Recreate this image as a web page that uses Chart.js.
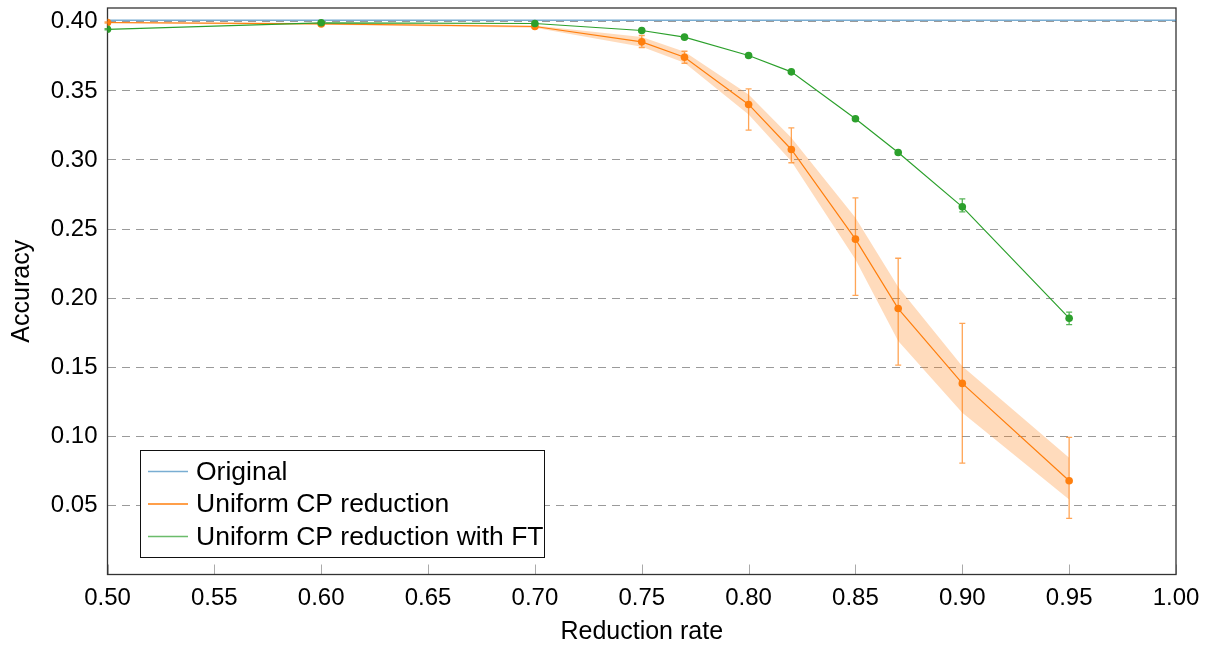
<!DOCTYPE html>
<html>
<head>
<meta charset="utf-8">
<script src="https://cdn.jsdelivr.net/npm/chart.js@4/dist/chart.umd.min.js"></script>
<style>
    html, body { margin: 0; padding: 0; background: #fff; }
    #wrap { width: 1216px; height: 646px; }
</style>
</head>
<body>
<div id="wrap"><canvas id="chart" width="1216" height="646"></canvas></div>
<script>
// reduction rates (x) shared by both curves
var rates = [0.50, 0.60, 0.70, 0.75, 0.77, 0.80, 0.82, 0.85, 0.87, 0.90, 0.95];

// original model accuracy (flat line)
var originalX = [0.50, 1.00];
var originalAcc = [0.4012, 0.4012];

// uniform CP reduction: mean, error bar ends, shaded band
var uniformAcc = [0.3995, 0.3985, 0.3966, 0.3855, 0.3744, 0.3402, 0.3076, 0.2427, 0.1925, 0.1383, 0.0679];
var uniformErrHigh = [0.4000, 0.3990, 0.3972, 0.3901, 0.3787, 0.3515, 0.3233, 0.2726, 0.2289, 0.1817, 0.0992];
var uniformErrLow = [0.3990, 0.3980, 0.3960, 0.3814, 0.3700, 0.3216, 0.2980, 0.2020, 0.1515, 0.0806, 0.0406];
var uniformBandHigh = [0.3999, 0.3991, 0.3973, 0.3890, 0.3783, 0.3474, 0.3161, 0.2582, 0.2080, 0.1508, 0.0845];
var uniformBandLow = [0.3988, 0.3979, 0.3957, 0.3820, 0.3703, 0.3329, 0.2991, 0.2280, 0.1690, 0.1171, 0.0543];

// uniform CP reduction with fine-tuning
var ftAcc = [0.3946, 0.3993, 0.3988, 0.3937, 0.3889, 0.3756, 0.3638, 0.3298, 0.3054, 0.2661, 0.1855];
var ftErrHigh = [0.3950, 0.3996, 0.3991, 0.3943, 0.3895, 0.3768, 0.3647, 0.3305, 0.3062, 0.2719, 0.1899];
var ftErrLow = [0.3942, 0.3990, 0.3985, 0.3931, 0.3883, 0.3744, 0.3629, 0.3291, 0.3046, 0.2625, 0.1808];

var xTicks = [0.50, 0.55, 0.60, 0.65, 0.70, 0.75, 0.80, 0.85, 0.90, 0.95, 1.00];
var yTicks = [0.05, 0.10, 0.15, 0.20, 0.25, 0.30, 0.35, 0.40];

var legendLabels = ['Original', 'Uniform CP reduction', 'Uniform CP reduction with FT'];

var BLUE = 'rgba(31,119,180,0.6)';
var ORANGE = '#ff7f0e';
var GREEN = '#2ca02c';
var FONT = "'Liberation Sans', Arial, Helvetica, sans-serif";

function pts(xs, ys) {
    return xs.map(function(x, i) { return {x: x, y: ys[i]}; });
}

function errBars(xs, hi, lo) {
    return xs.map(function(x, i) { return {x: x, hi: hi[i], lo: lo[i]}; });
}

var errorSets = [
    {color: 'rgba(255,127,14,0.7)', bars: errBars(rates, uniformErrHigh, uniformErrLow)},
    {color: 'rgba(44,160,44,0.8)', bars: errBars(rates, ftErrHigh, ftErrLow)}
];

// frame, inner x ticks and error bars, drawn under the lines
var framePlugin = {
    id: 'frame',
    beforeDatasetsDraw: function(chart) {
        var ctx = chart.ctx, a = chart.chartArea;
        var xs = chart.scales.x, ys = chart.scales.y;
        ctx.save();
        ctx.strokeStyle = '#aaa';
        ctx.lineWidth = 1;
        xTicks.forEach(function(v) {
            var px = Math.round(xs.getPixelForValue(v)) + 0.5;
            ctx.beginPath();
            ctx.moveTo(px, a.bottom);
            ctx.lineTo(px, a.bottom - 10);
            ctx.stroke();
        });
        ctx.strokeStyle = '#333';
        ctx.lineWidth = 1.3;
        ctx.strokeRect(a.left, a.top, a.right - a.left, a.bottom - a.top);

        ctx.lineWidth = 1.3;
        errorSets.forEach(function(set) {
            ctx.strokeStyle = set.color;
            set.bars.forEach(function(b) {
                var px = xs.getPixelForValue(b.x);
                var top = ys.getPixelForValue(b.hi), bot = ys.getPixelForValue(b.lo);
                ctx.beginPath();
                ctx.moveTo(px, top); ctx.lineTo(px, bot);
                ctx.moveTo(px - 3, top); ctx.lineTo(px + 3, top);
                ctx.moveTo(px - 3, bot); ctx.lineTo(px + 3, bot);
                ctx.stroke();
            });
        });
        ctx.restore();
    }
};

// boxed legend in the lower left of the plot
var legendPlugin = {
    id: 'boxLegend',
    afterDraw: function(chart) {
        var ctx = chart.ctx;
        var colors = [BLUE, ORANGE, 'rgba(44,160,44,0.7)'];
        ctx.save();
        ctx.fillStyle = '#fff';
        ctx.fillRect(140.5, 450.5, 404, 107);
        ctx.strokeStyle = '#111';
        ctx.lineWidth = 1;
        ctx.strokeRect(140.5, 450.5, 404, 107);
        ctx.font = '26.5px ' + FONT;
        ctx.textBaseline = 'middle';
        legendLabels.forEach(function(label, i) {
            var y = 471.5 + i * 32.5;
            ctx.strokeStyle = colors[i];
            ctx.lineWidth = 1.5;
            ctx.beginPath();
            ctx.moveTo(148, y);
            ctx.lineTo(188, y);
            ctx.stroke();
            ctx.fillStyle = '#000';
            ctx.fillText(label, 196, y + 1);
        });
        ctx.restore();
    }
};

new Chart(document.getElementById('chart'), {
    type: 'line',
    data: {
        datasets: [
            {
                label: 'band low',
                data: pts(rates, uniformBandLow),
                borderWidth: 0,
                pointRadius: 0,
                fill: false,
                order: 4
            },
            {
                label: 'band high',
                data: pts(rates, uniformBandHigh),
                borderWidth: 0,
                pointRadius: 0,
                backgroundColor: 'rgba(255,127,14,0.28)',
                fill: '-1',
                order: 3
            },
            {
                label: legendLabels[0],
                data: pts(originalX, originalAcc),
                borderColor: BLUE,
                borderWidth: 1.5,
                pointRadius: 0,
                fill: false,
                order: 2
            },
            {
                label: legendLabels[1],
                data: pts(rates, uniformAcc),
                borderColor: ORANGE,
                backgroundColor: ORANGE,
                borderWidth: 1.2,
                pointRadius: 3.8,
                pointBorderWidth: 0,
                fill: false,
                order: 1
            },
            {
                label: legendLabels[2],
                data: pts(rates, ftAcc),
                borderColor: GREEN,
                backgroundColor: GREEN,
                borderWidth: 1.2,
                pointRadius: 3.8,
                pointBorderWidth: 0,
                fill: false,
                order: 0
            }
        ]
    },
    options: {
        responsive: false,
        animation: false,
        layout: {padding: {top: 8, right: 40, left: 0, bottom: 0}},
        plugins: {
            legend: {display: false},
            tooltip: {enabled: false},
            filler: {drawTime: 'beforeDatasetsDraw'}
        },
        scales: {
            x: {
                type: 'linear',
                min: 0.5,
                max: 1.0,
                afterBuildTicks: function(s) { s.ticks = xTicks.map(function(v) { return {value: v}; }); },
                afterFit: function(s) { s.height = 71.5; s.paddingLeft = 0; s.paddingRight = 0; },
                grid: {display: false, drawTicks: false},
                border: {display: false},
                ticks: {
                    padding: 9,
                    color: '#000',
                    maxRotation: 0,
                    autoSkip: false,
                    font: {family: FONT, size: 24},
                    callback: function(v) { return Number(v).toFixed(2); }
                },
                title: {
                    display: true,
                    text: 'Reduction rate',
                    color: '#000',
                    font: {family: FONT, size: 25, lineHeight: 1.1},
                    padding: {top: 0, bottom: 0}
                }
            },
            y: {
                type: 'linear',
                min: 0,
                max: 0.41,
                afterBuildTicks: function(s) { s.ticks = yTicks.map(function(v) { return {value: v}; }); },
                afterFit: function(s) { s.width = 107.5; s.paddingTop = 0; s.paddingBottom = 0; },
                grid: {color: 'rgba(120,120,120,0.75)', lineWidth: 1, drawTicks: false},
                border: {display: false, dash: [8, 6]},
                ticks: {
                    padding: 10,
                    color: '#000',
                    font: {family: FONT, size: 24},
                    callback: function(v) { return Number(v).toFixed(2); }
                },
                title: {
                    display: true,
                    text: 'Accuracy',
                    color: '#000',
                    font: {family: FONT, size: 25, lineHeight: 1.2},
                    padding: {top: 7, bottom: 0}
                }
            }
        }
    },
    plugins: [framePlugin, legendPlugin]
});
</script>
</body>
</html>
